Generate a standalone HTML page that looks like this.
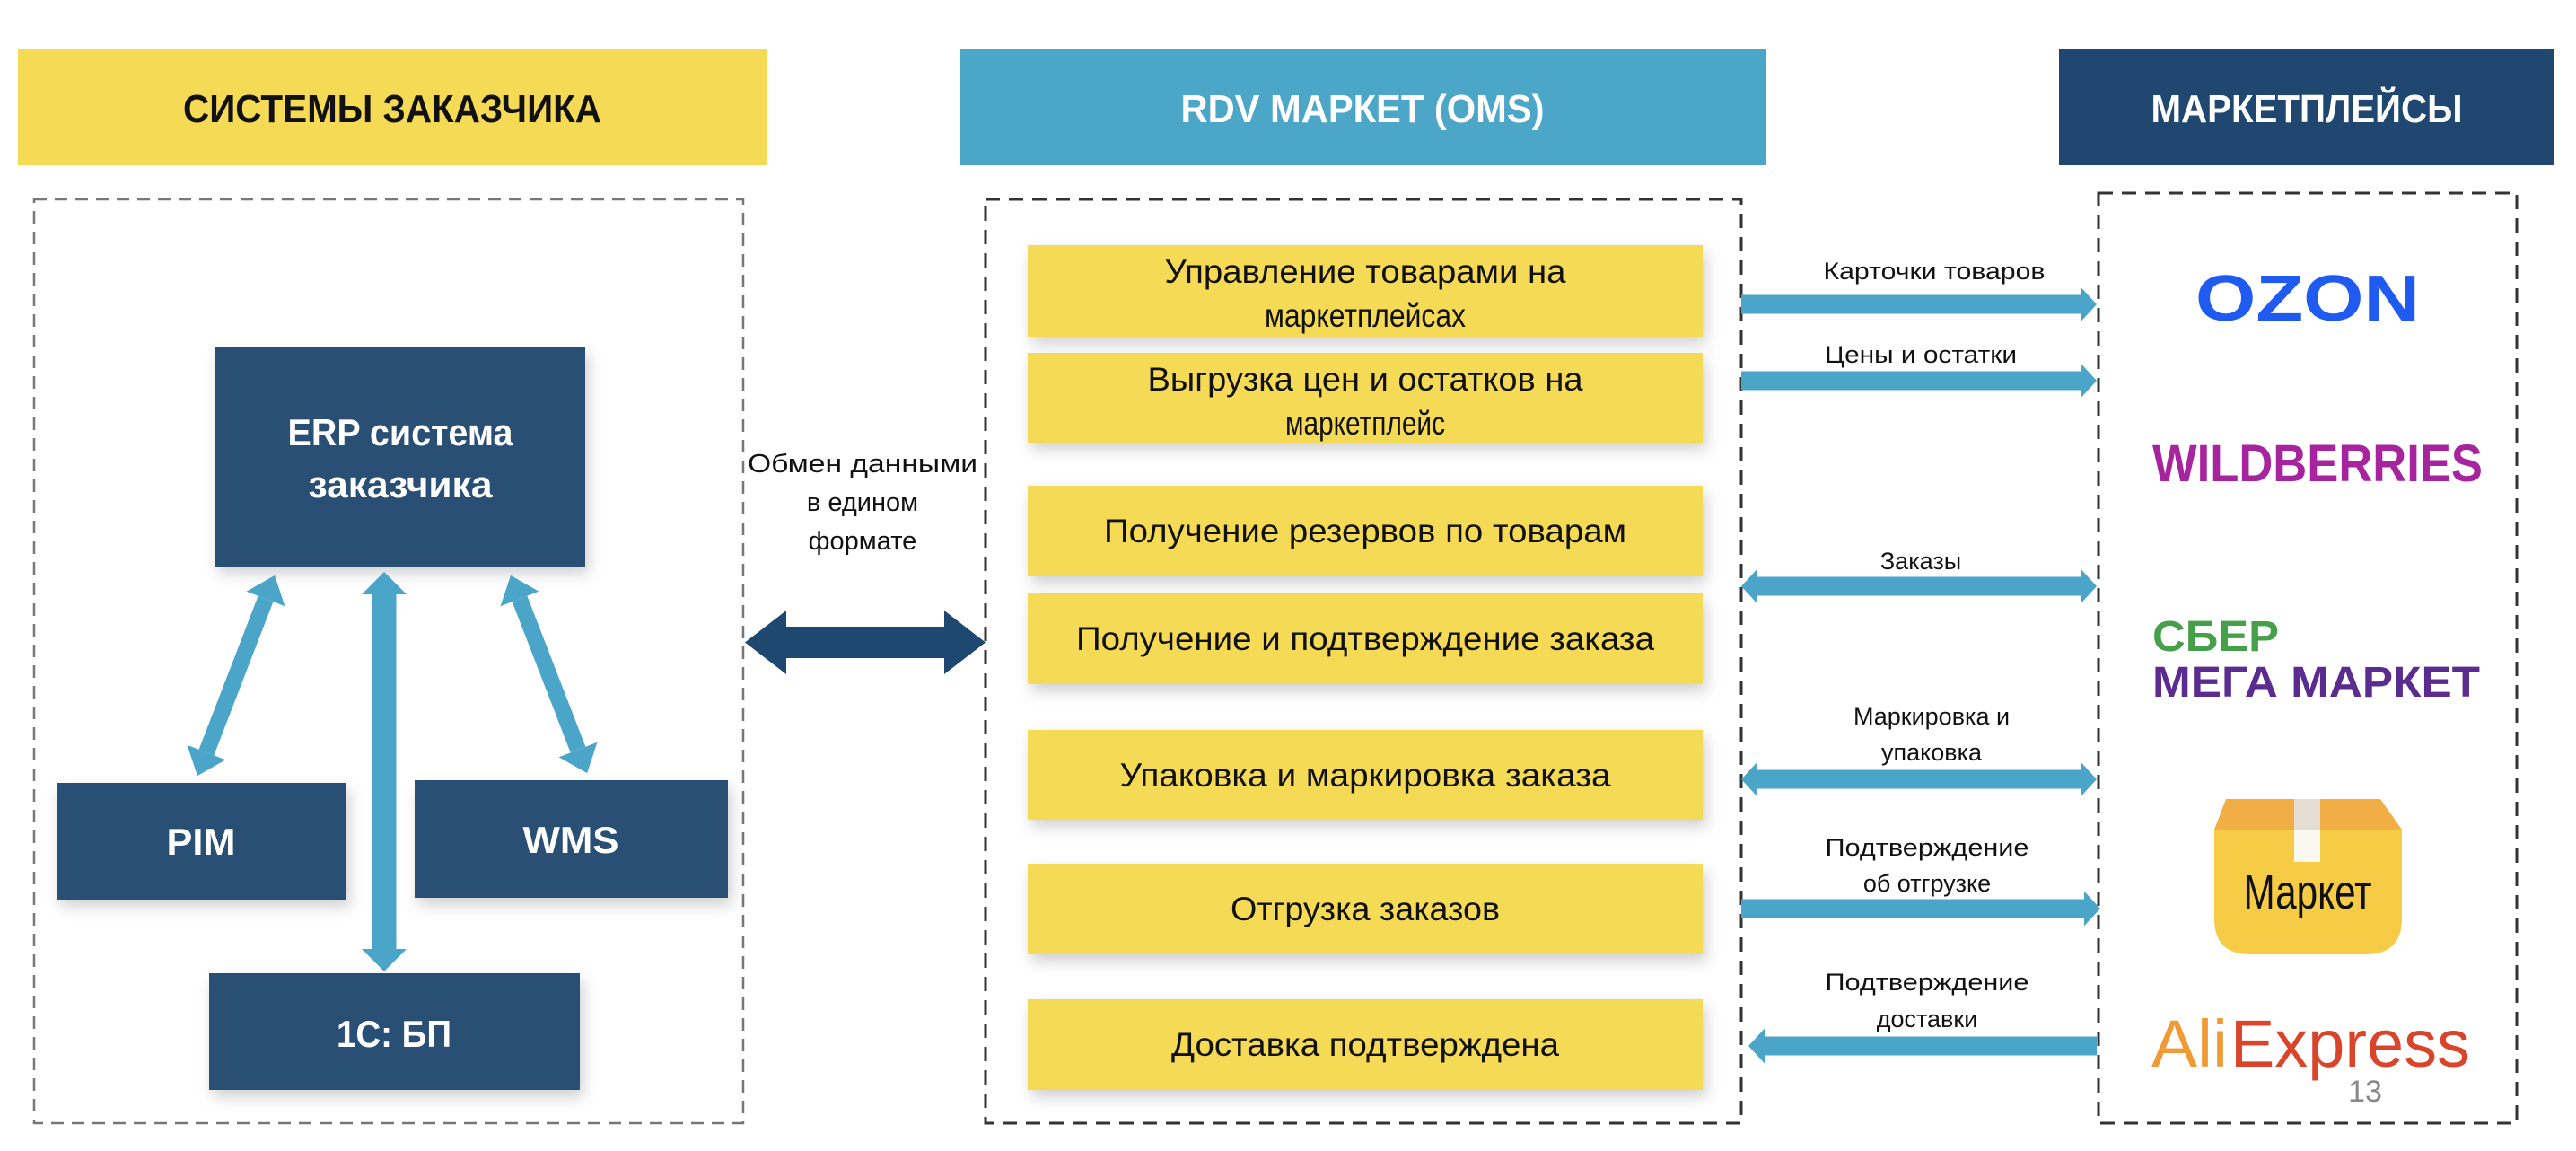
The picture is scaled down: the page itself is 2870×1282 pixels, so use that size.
<!DOCTYPE html>
<html><head><meta charset="utf-8"><style>
html,body{margin:0;padding:0;background:#fff;}
svg{display:block;font-family:"Liberation Sans","Noto Sans CJK SC",sans-serif;}
</style></head><body>
<svg width="2870" height="1282" viewBox="0 0 2870 1282" xmlns="http://www.w3.org/2000/svg">
<defs>
<filter id="sh" x="-20%" y="-20%" width="140%" height="150%"><feDropShadow dx="4" dy="8" stdDeviation="8" flood-color="#000" flood-opacity="0.18"/></filter>
<marker id="hv" markerUnits="userSpaceOnUse" markerWidth="30" markerHeight="56" refX="0" refY="25" orient="auto-start-reverse" viewBox="0 0 30 50"><path d="M0,0 L25,25 L0,50 Z" fill="#4BA5C8"/></marker>
<marker id="hd" markerUnits="userSpaceOnUse" markerWidth="30" markerHeight="46" refX="0" refY="23" orient="auto-start-reverse" viewBox="0 0 30 46"><path d="M0,0 L28,23 L0,46 Z" fill="#4BA5C8"/></marker>
<marker id="hh" markerUnits="userSpaceOnUse" markerWidth="20" markerHeight="40" refX="0" refY="19.5" orient="auto-start-reverse" viewBox="0 0 20 39"><path d="M0,0 L18,19.5 L0,39 Z" fill="#4BA5C8"/></marker>
</defs>

<!-- headers -->
<rect x="20" y="55" width="835" height="129" fill="#F5DA55"/>
<text x="437" y="136" font-size="44" font-weight="bold" text-anchor="middle" fill="#111" textLength="466" lengthAdjust="spacingAndGlyphs">СИСТЕМЫ ЗАКАЗЧИКА</text>
<rect x="1070" y="55" width="897" height="129" fill="#4BA6C8"/>
<text x="1518" y="136" font-size="44" font-weight="bold" text-anchor="middle" fill="#fff" textLength="405" lengthAdjust="spacingAndGlyphs">RDV МАРКЕТ (OMS)</text>
<rect x="2294" y="55" width="551" height="129" fill="#1F476F"/>
<text x="2570" y="136" font-size="44" font-weight="bold" text-anchor="middle" fill="#fff" textLength="347" lengthAdjust="spacingAndGlyphs">МАРКЕТПЛЕЙСЫ</text>

<!-- dashed boxes -->
<rect x="38" y="222" width="790" height="1029" fill="none" stroke="#777" stroke-width="2.5" stroke-dasharray="14,9"/>
<rect x="1098" y="222" width="842" height="1029" fill="none" stroke="#333" stroke-width="3" stroke-dasharray="16,10"/>
<rect x="2338" y="215" width="466" height="1036" fill="none" stroke="#333" stroke-width="3" stroke-dasharray="16,10"/>

<!-- left boxes -->
<g filter="url(#sh)" fill="#2A5075">
<rect x="239" y="386" width="413" height="245"/>
<rect x="63" y="872" width="323" height="130"/>
<rect x="462" y="869" width="349" height="131"/>
<rect x="233" y="1084" width="413" height="130"/>
</g>
<g fill="#fff" font-weight="bold" font-size="42" text-anchor="middle">
<text x="446" y="496" textLength="251" lengthAdjust="spacingAndGlyphs">ERP система</text>
<text x="446" y="554" textLength="205" lengthAdjust="spacingAndGlyphs">заказчика</text>
<text x="224" y="952" textLength="77" lengthAdjust="spacingAndGlyphs">PIM</text>
<text x="636" y="950" textLength="107" lengthAdjust="spacingAndGlyphs">WMS</text>
<text x="439" y="1166" textLength="128" lengthAdjust="spacingAndGlyphs">1С: БП</text>
</g>

<!-- left arrows -->
<line x1="428" y1="662" x2="428" y2="1057" stroke="#4BA5C8" stroke-width="27" marker-start="url(#hv)" marker-end="url(#hv)"/>
<line x1="296" y1="667" x2="230" y2="838" stroke="#4BA5C8" stroke-width="18" marker-start="url(#hd)" marker-end="url(#hd)"/>
<line x1="579" y1="667" x2="644" y2="835" stroke="#4BA5C8" stroke-width="18" marker-start="url(#hd)" marker-end="url(#hd)"/>

<!-- exchange -->
<g font-size="29" text-anchor="middle" fill="#111">
<text x="961" y="526" textLength="256" lengthAdjust="spacingAndGlyphs">Обмен данными</text>
<text x="961" y="569">в едином</text>
<text x="961" y="612">формате</text>
</g>
<path d="M830,715.5 L876,680 L876,698 L1052,698 L1052,680 L1098,715.5 L1052,751 L1052,733 L876,733 L876,751 Z" fill="#1F4870"/>

<!-- yellow boxes -->
<g filter="url(#sh)" fill="#F5DA55">
<rect x="1145" y="273" width="752" height="102"/>
<rect x="1145" y="393" width="752" height="100"/>
<rect x="1145" y="541" width="752" height="101"/>
<rect x="1145" y="661" width="752" height="101"/>
<rect x="1145" y="813" width="752" height="100"/>
<rect x="1145" y="962" width="752" height="101"/>
<rect x="1145" y="1113" width="752" height="101"/>
</g>
<g font-size="37" text-anchor="middle" fill="#111">
<text x="1521" y="315" textLength="447" lengthAdjust="spacingAndGlyphs">Управление товарами на</text>
<text x="1521" y="364" textLength="224" lengthAdjust="spacingAndGlyphs">маркетплейсах</text>
<text x="1521" y="435" textLength="485" lengthAdjust="spacingAndGlyphs">Выгрузка цен и остатков на</text>
<text x="1521" y="484" textLength="178" lengthAdjust="spacingAndGlyphs">маркетплейс</text>
<text x="1521" y="604" textLength="582" lengthAdjust="spacingAndGlyphs">Получение резервов по товарам</text>
<text x="1521" y="724" textLength="644" lengthAdjust="spacingAndGlyphs">Получение и подтверждение заказа</text>
<text x="1521" y="876" textLength="547" lengthAdjust="spacingAndGlyphs">Упаковка и маркировка заказа</text>
<text x="1521" y="1025" textLength="300" lengthAdjust="spacingAndGlyphs">Отгрузка заказов</text>
<text x="1521" y="1176" textLength="432" lengthAdjust="spacingAndGlyphs">Доставка подтверждена</text>
</g>

<!-- right arrows -->
<g stroke="#4BA5C8" stroke-width="21">
<line x1="1940" y1="339" x2="2318" y2="339" marker-end="url(#hh)"/>
<line x1="1940" y1="424" x2="2318" y2="424" marker-end="url(#hh)"/>
<line x1="1958" y1="653" x2="2318" y2="653" marker-start="url(#hh)" marker-end="url(#hh)"/>
<line x1="1958" y1="868" x2="2318" y2="868" marker-start="url(#hh)" marker-end="url(#hh)"/>
<line x1="1940" y1="1012" x2="2322" y2="1012" marker-end="url(#hh)"/>
<line x1="1966" y1="1165" x2="2336" y2="1165" marker-start="url(#hh)"/>
</g>
<g font-size="27" text-anchor="middle" fill="#111">
<text x="2155" y="311" textLength="247" lengthAdjust="spacingAndGlyphs">Карточки товаров</text>
<text x="2140" y="404" textLength="214" lengthAdjust="spacingAndGlyphs">Цены и остатки</text>
<text x="2140" y="634">Заказы</text>
<text x="2152" y="807">Маркировка и</text>
<text x="2152" y="847">упаковка</text>
<text x="2147" y="953" textLength="227" lengthAdjust="spacingAndGlyphs">Подтверждение</text>
<text x="2147" y="993">об отгрузке</text>
<text x="2147" y="1103" textLength="227" lengthAdjust="spacingAndGlyphs">Подтверждение</text>
<text x="2147" y="1144">доставки</text>
</g>

<!-- logos -->
<text x="2571" y="357" font-size="72" font-weight="bold" text-anchor="middle" fill="#1F5BF0" textLength="250" lengthAdjust="spacingAndGlyphs">OZON</text>
<text x="2582" y="536" font-size="58" font-weight="bold" text-anchor="middle" fill="#A7249F" textLength="368" lengthAdjust="spacingAndGlyphs">WILDBERRIES</text>
<text x="2398" y="725" font-size="48" font-weight="bold" fill="#45A049" textLength="141" lengthAdjust="spacingAndGlyphs">СБЕР</text>
<text x="2398" y="776" font-size="48" font-weight="bold" fill="#5B2C8F" textLength="365" lengthAdjust="spacingAndGlyphs">МЕГА МАРКЕТ</text>

<path d="M2480,890 L2652,890 L2676,924 L2467,924 Z" fill="#F0AE44"/>
<path d="M2467,924 L2676,924 L2676,1023 Q2676,1063 2636,1063 L2507,1063 Q2467,1063 2467,1023 Z" fill="#F6CB45"/>
<rect x="2556" y="890" width="29" height="70" fill="#FBF8F0"/>
<rect x="2556" y="890" width="29" height="34" fill="#E6DDD2"/>
<text x="2571" y="1012" font-size="54" text-anchor="middle" fill="#111" textLength="143" lengthAdjust="spacingAndGlyphs">Маркет</text>

<text x="2397" y="1188" font-size="74" fill="#F09A35" textLength="85" lengthAdjust="spacingAndGlyphs">Ali</text>
<text x="2485" y="1188" font-size="74" fill="#D9452A" textLength="267" lengthAdjust="spacingAndGlyphs">Express</text>
<text x="2635" y="1227" font-size="34" text-anchor="middle" fill="#888">13</text>
</svg>
</body></html>
